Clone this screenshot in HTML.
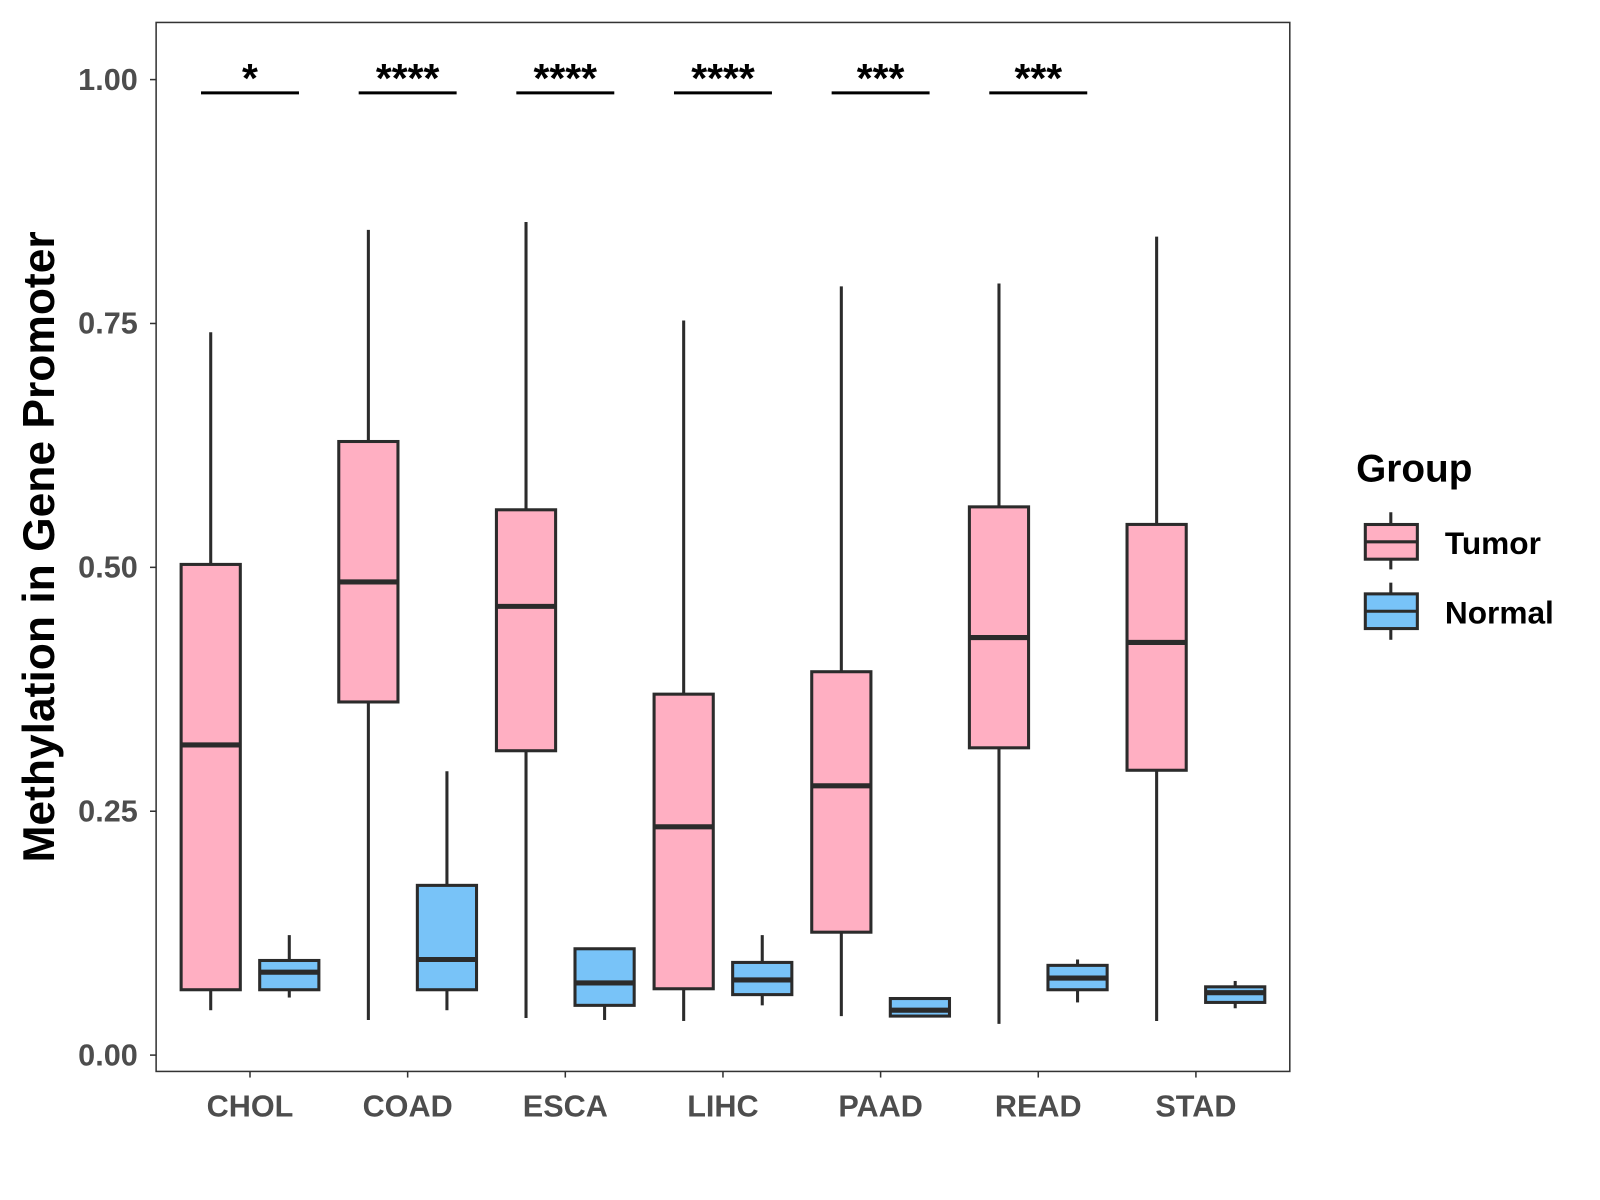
<!DOCTYPE html>
<html><head><meta charset="utf-8"><style>
html,body{margin:0;padding:0;background:#fff;}
svg{display:block;}
text{font-family:"Liberation Sans",Arial,sans-serif;font-weight:bold;}
</style></head><body>
<svg id="chart" width="1600" height="1200" viewBox="0 0 1568 1176" xmlns="http://www.w3.org/2000/svg">
<rect x="153" y="22" width="1111" height="1028" fill="#fff" stroke="#333" stroke-width="1.5"/>
<g id="marks"></g>
<text transform="translate(53,536) rotate(-90)" text-anchor="middle" font-size="43.5" fill="#000">Methylation in Gene Promoter</text>
<g>
<text x="1329" y="472" font-size="38" fill="#000">Group</text>
<g>
<line x1="1363" y1="502" x2="1363" y2="558" stroke="#2b2b2b" stroke-width="3"/>
<rect x="1338" y="514" width="51" height="34" fill="#ffafc2" stroke="#2b2b2b" stroke-width="3"/>
<line x1="1338" y1="531" x2="1389" y2="531" stroke="#2b2b2b" stroke-width="3"/>
<text x="1416" y="543" font-size="31" fill="#000">Tumor</text></g>
<g>
<line x1="1363" y1="571" x2="1363" y2="627" stroke="#2b2b2b" stroke-width="3"/>
<rect x="1338" y="582" width="51" height="34" fill="#78c3f8" stroke="#2b2b2b" stroke-width="3"/>
<line x1="1338" y1="599" x2="1389" y2="599" stroke="#2b2b2b" stroke-width="3"/>
<text x="1416" y="611" font-size="31" fill="#000">Normal</text></g>
</g>
</svg>
<script>
const categories=["CHOL","COAD","ESCA","LIHC","PAAD","READ","STAD"];
const tumorMin=[0.046,0.036,0.038,0.035,0.040,0.032,0.035];
const tumorQ1=[0.067,0.362,0.312,0.068,0.126,0.315,0.292];
const tumorMed=[0.318,0.485,0.460,0.234,0.276,0.428,0.423];
const tumorQ3=[0.503,0.629,0.559,0.370,0.393,0.562,0.544];
const tumorMax=[0.741,0.846,0.854,0.753,0.788,0.791,0.839];
const normalMin=[0.059,0.046,0.036,0.051,0.040,0.054,0.048];
const normalQ1=[0.067,0.067,0.051,0.062,0.040,0.067,0.054];
const normalMed=[0.085,0.098,0.074,0.077,0.046,0.079,0.064];
const normalQ3=[0.097,0.174,0.109,0.095,0.058,0.092,0.070];
const normalMax=[0.123,0.291,0.109,0.123,0.058,0.098,0.076];
const sigLabels=["*","****","****","****","***","***",""];
const yTicks=[0,0.25,0.5,0.75,1.0];
const yTickLabels=["0.00","0.25","0.50","0.75","1.00"];

const NS="http://www.w3.org/2000/svg";
const g=document.getElementById("marks");
function y(v){return 1034-v*956;}
function x(i){return 245+i*154.5;}
function el(tag,attrs,parent){const e=document.createElementNS(NS,tag);for(const k in attrs)e.setAttribute(k,attrs[k]);(parent||g).appendChild(e);return e;}

yTicks.forEach((t,i)=>{
  const tk=el("line",{x1:147,x2:153,y1:y(t),y2:y(t),stroke:"#333","stroke-width":1.5});
  
  
  const lb=el("text",{x:135,y:y(t)+10,"text-anchor":"end","font-size":30,fill:"#4d4d4d"});
  lb.textContent=yTickLabels[i];
  
  
});
categories.forEach((c,i)=>{
  const tk=el("line",{x1:x(i),x2:x(i),y1:1050,y2:1056,stroke:"#333","stroke-width":1.5});
  
  
  const lb=el("text",{x:x(i),y:1094,"text-anchor":"middle","font-size":30,fill:"#4d4d4d"});
  lb.textContent=c;
  
  
});
function box(cx,mn,q1,md,q3,mx,fill,name){
  const gg=el("g",{});
  
  
  const s={stroke:"#2b2b2b","stroke-width":3};
  el("line",Object.assign({x1:cx,x2:cx,y1:y(mx),y2:y(q3)},s),gg);
  el("line",Object.assign({x1:cx,x2:cx,y1:y(q1),y2:y(mn)},s),gg);
  el("rect",Object.assign({x:cx-29,y:y(q3),width:58,height:Math.max(1,y(q1)-y(q3)),fill:fill},s),gg);
  el("line",{x1:cx-29,x2:cx+29,y1:y(md),y2:y(md),stroke:"#2b2b2b","stroke-width":5},gg);
}
categories.forEach((c,i)=>{
  box(x(i)-38.5,tumorMin[i],tumorQ1[i],tumorMed[i],tumorQ3[i],tumorMax[i],"#ffafc2","box-tumor-"+c.toLowerCase());
  box(x(i)+38.5,normalMin[i],normalQ1[i],normalMed[i],normalQ3[i],normalMax[i],"#78c3f8","box-normal-"+c.toLowerCase());
  if(sigLabels[i]){
    const ln=el("line",{x1:x(i)-48,x2:x(i)+48,y1:91,y2:91,stroke:"#000","stroke-width":3});
    
    
    const t=el("text",{x:x(i),y:90,"text-anchor":"middle","font-size":40,fill:"#000"});
    t.textContent=sigLabels[i];
    
    
  }
});
</script>
</body></html>
